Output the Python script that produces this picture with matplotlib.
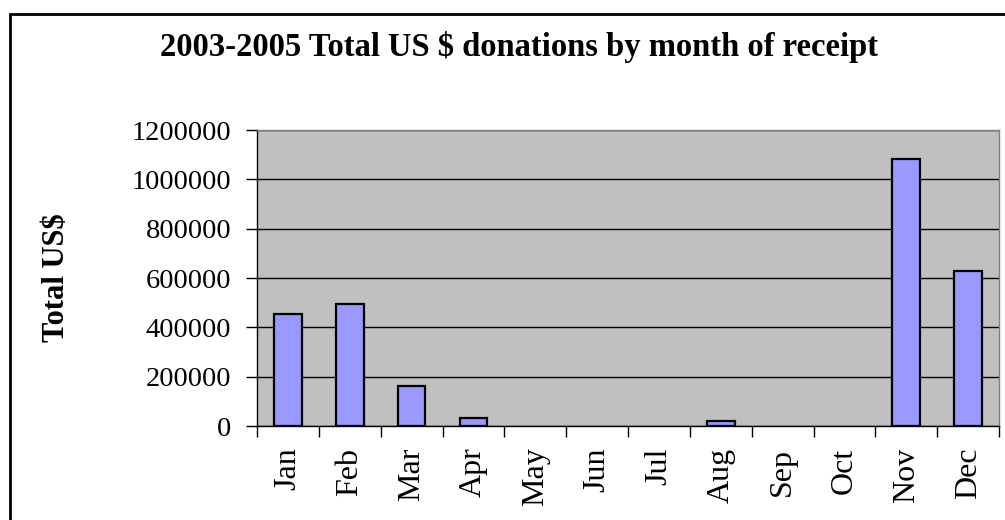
import matplotlib.pyplot as plt
from matplotlib.patches import Rectangle
import numpy as np

months = ['Jan', 'Feb', 'Mar', 'Apr', 'May', 'Jun', 'Jul', 'Aug', 'Sep', 'Oct', 'Nov', 'Dec']
totals = [453000, 495000, 161000, 31000, 0, 0, 0, 22000, 0, 0, 1084000, 630000]
yticks = [0, 200000, 400000, 600000, 800000, 1000000, 1200000]

plt.rcParams['font.family'] = ['Liberation Serif', 'DejaVu Serif']

fig = plt.figure(figsize=(10.05, 5.2), dpi=100)
ax = fig.add_axes([257 / 1005, 1 - 426 / 520, 742 / 1005, 296 / 520])

# outer chart frame (runs off the right and bottom of the picture)
fig.patches.append(Rectangle((9.5 / 1005, -0.1), 1.1, 1 - 13.5 / 520 + 0.1,
                             transform=fig.transFigure, fill=False,
                             edgecolor='black', linewidth=2))

x = np.arange(len(months))
vals = np.array(totals)
# empty months get no bar at all (no outline on the axis)
has = vals > 0
ax.set_facecolor('#C0C0C0')
ax.bar(x[has], vals[has], width=0.45, color='#9999FF', edgecolor='black', linewidth=1.6, zorder=3)

ax.set_xlim(-0.5, len(months) - 0.5)
ax.set_ylim(0, 1200000)
ax.set_yticks(yticks)
ax.set_yticklabels([str(v) for v in yticks], fontsize=20.5)
ax.yaxis.grid(True, color='black', linewidth=1)
ax.set_axisbelow(True)

ax.set_xticks(x)
ax.set_xticklabels(months, rotation=90, fontsize=23)
ax.set_xticks(np.arange(-0.5, len(months)), minor=True)
ax.tick_params(axis='x', which='major', length=0, pad=15.5)
ax.tick_params(axis='x', which='minor', length=8, width=1, direction='out')
ax.tick_params(axis='y', length=8, width=1, direction='out', pad=10.5)

for side in ['top', 'right']:
    ax.spines[side].set_color('#808080')
    ax.spines[side].set_linewidth(1)
for side in ['left', 'bottom']:
    ax.spines[side].set_color('black')
    ax.spines[side].set_linewidth(1)

fig.text(519 / 1005, 1 - 47 / 520, '2003-2005 Total US $ donations by month of receipt',
         ha='center', va='center', fontsize=23.5, fontweight='bold')
fig.text(57 / 1005, 1 - 278 / 520, 'Total US$', rotation=90,
         ha='center', va='center', fontsize=22, fontweight='bold')

fig.savefig('out.png', dpi=100)
